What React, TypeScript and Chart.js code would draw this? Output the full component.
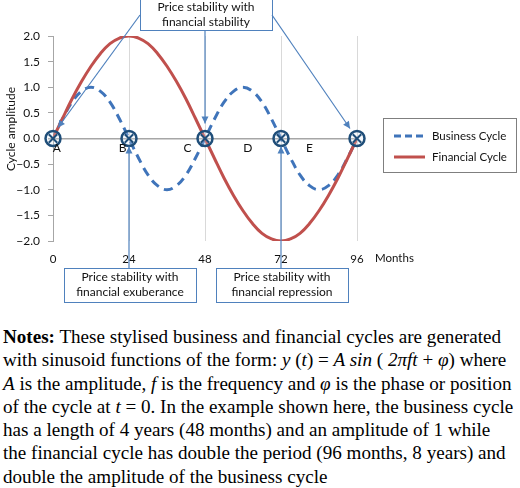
import React, { useEffect, useRef } from 'react';
import { Chart, registerables } from 'chart.js';

Chart.register(...registerables);

// ---- data ----
const months = [0, 3, 6, 9, 12, 15, 18, 21, 24, 27, 30, 33, 36, 39, 42, 45, 48, 51, 54, 57, 60, 63, 66, 69, 72, 75, 78, 81, 84, 87, 90, 93, 96];
const businessCycle = [0, 0.38, 0.71, 0.92, 1.0, 0.92, 0.71, 0.38, 0, -0.38, -0.71, -0.92, -1.0, -0.92, -0.71, -0.38, 0, 0.38, 0.71, 0.92, 1.0, 0.92, 0.71, 0.38, 0, -0.38, -0.71, -0.92, -1.0, -0.92, -0.71, -0.38, 0];
const financialCycle = [0, 0.39, 0.77, 1.11, 1.41, 1.66, 1.85, 1.96, 2.0, 1.96, 1.85, 1.66, 1.41, 1.11, 0.77, 0.39, 0, -0.39, -0.77, -1.11, -1.41, -1.66, -1.85, -1.96, -2.0, -1.96, -1.85, -1.66, -1.41, -1.11, -0.77, -0.39, 0];
const stabilityMonths = [0, 24, 48, 72, 96];
const stabilityValues = [0, 0, 0, 0, 0];
const phaseLabels = ['A', 'B', 'C', 'D', 'E'];
const phaseMonths = [1.2, 22, 42.5, 61.5, 81];
const xTickValues = [0, 24, 48, 72, 96];
const seriesNames = ['Business Cycle', 'Financial Cycle'];
const xAxisLabel = 'Months';
const yAxisLabel = 'Cycle amplitude';
const topNote = ['Price stability with', 'financial stability'];
const bottomNoteLeft = ['Price stability with', 'financial exuberance'];
const bottomNoteRight = ['Price stability with', 'financial repression'];

const BLUE = '#3F74BA';
const RED = '#C0504D';
const NAVY = '#1F4E79';
const BOX = '#4F81BD';
const AXIS = '#A6A6A6';
const FONT = 'Lato, "Open Sans", sans-serif';
const FS = 11.5;

function arrow(ctx: CanvasRenderingContext2D, x1: number, y1: number, x2: number, y2: number) {
  ctx.save();
  ctx.strokeStyle = BOX;
  ctx.fillStyle = BOX;
  ctx.lineWidth = 1.2;
  ctx.beginPath();
  ctx.moveTo(x1, y1);
  ctx.lineTo(x2, y2);
  ctx.stroke();
  const a = Math.atan2(y2 - y1, x2 - x1);
  const L = 7, W = 3.5;
  ctx.beginPath();
  ctx.moveTo(x2, y2);
  ctx.lineTo(x2 - L * Math.cos(a) + W * Math.sin(a), y2 - L * Math.sin(a) - W * Math.cos(a));
  ctx.lineTo(x2 - L * Math.cos(a) - W * Math.sin(a), y2 - L * Math.sin(a) + W * Math.cos(a));
  ctx.closePath();
  ctx.fill();
  ctx.restore();
}

function noteBox(ctx: CanvasRenderingContext2D, x: number, y: number, w: number, h: number, lines: string[]) {
  ctx.save();
  ctx.fillStyle = '#fff';
  ctx.fillRect(x, y, w, h);
  ctx.strokeStyle = BOX;
  ctx.lineWidth = 1;
  ctx.strokeRect(x + 0.5, y + 0.5, w, h);
  ctx.fillStyle = '#111';
  ctx.font = `12px ${FONT}`;
  ctx.textAlign = 'center';
  ctx.textBaseline = 'middle';
  lines.forEach((l, i) => ctx.fillText(l, x + w / 2, y + h / 2 - 7.5 + i * 15));
  ctx.restore();
}

const overlay = {
  id: 'overlay',
  afterDraw(chart: any) {
    const ctx: CanvasRenderingContext2D = chart.ctx;
    const xs = chart.scales.x;
    const ys = chart.scales.y;
    const y0 = ys.getPixelForValue(0);
    ctx.save();
    // phase letters
    ctx.fillStyle = '#111';
    ctx.font = `12px ${FONT}`;
    ctx.textAlign = 'center';
    ctx.textBaseline = 'middle';
    phaseLabels.forEach((l, i) => ctx.fillText(l, xs.getPixelForValue(phaseMonths[i]), y0 + 10));
    // Months label
    ctx.font = `${FS}px ${FONT}`;
    ctx.textAlign = 'left';
    ctx.fillText(xAxisLabel, xs.right + 18, 258);
    // y title
    ctx.save();
    ctx.translate(11, 129);
    ctx.rotate(-Math.PI / 2);
    ctx.textAlign = 'center';
    ctx.font = `12px ${FONT}`;
    ctx.fillText(yAxisLabel, 0, 0);
    ctx.restore();

    // legend
    ctx.strokeStyle = '#7F7F7F';
    ctx.lineWidth = 1;
    ctx.strokeRect(383.5, 118.5, 133, 54);
    ctx.lineWidth = 3;
    ctx.strokeStyle = BLUE;
    ctx.setLineDash([7, 4]);
    ctx.beginPath();
    ctx.moveTo(394, 136);
    ctx.lineTo(425, 136);
    ctx.stroke();
    ctx.setLineDash([]);
    ctx.strokeStyle = RED;
    ctx.beginPath();
    ctx.moveTo(394, 157);
    ctx.lineTo(425, 157);
    ctx.stroke();
    ctx.fillStyle = '#111';
    ctx.textAlign = 'left';
    ctx.font = `${FS}px ${FONT}`;
    ctx.fillText(seriesNames[0], 432, 136);
    ctx.fillText(seriesNames[1], 432, 157);

    // annotation boxes and arrows
    const px = (m: number) => xs.getPixelForValue(m);
    noteBox(ctx, 140, -1, 132, 31, topNote);
    arrow(ctx, 140, 15, px(0) + 5, y0 - 11);
    arrow(ctx, px(48), 31, px(48), y0 - 15);
    arrow(ctx, 272, 15, px(96) - 7, y0 - 10);
    noteBox(ctx, 64, 268, 132, 34, bottomNoteLeft);
    noteBox(ctx, 216, 268, 132, 34, bottomNoteRight);
    arrow(ctx, px(24), 268, px(24), y0 + 8);
    arrow(ctx, px(72), 268, px(72), y0 + 8);
    ctx.restore();
  },
};

function NotesText() {
  const it = (s: string) => <i>{s}</i>;
  const lines: React.ReactNode[] = [
    <><b>Notes:</b> These stylised business and financial cycles are generated</>,
    <>with sinusoid functions of the form: {it('y')} ({it('t')}) = {it('A sin')} ( {it('2πft')} + {it('φ')}) where</>,
    <>{it('A')} is the amplitude, {it('f')} is the frequency and {it('φ')} is the phase or position</>,
    <>of the cycle at {it('t')} = 0. In the example shown here, the business cycle</>,
    <>has a length of 4 years (48 months) and an amplitude of 1 while</>,
    <>the financial cycle has double the period (96 months, 8 years) and</>,
    <>double the amplitude of the business cycle</>,
  ];
  return (
    <div style={{ position: 'absolute', left: 3, top: 325, fontFamily: '"Liberation Serif", "Times New Roman", serif', fontSize: 19.1, lineHeight: '23.3px', color: '#000' }}>
      {lines.map((l, i) => (
        <div key={i} style={{ whiteSpace: 'nowrap' }}>{l}</div>
      ))}
    </div>
  );
}

export default function App() {
  const ref = useRef<HTMLCanvasElement>(null);
  useEffect(() => {
    const chart = new Chart(ref.current as HTMLCanvasElement, {
      type: 'line',
      data: {
        datasets: [
          {
            label: seriesNames[0],
            data: months.map((m, i) => ({ x: m, y: businessCycle[i] })),
            borderColor: BLUE,
            borderWidth: 3,
            borderDash: [9, 6],
            pointRadius: 0,
            tension: 0.4,
            fill: false,
            order: 3,
          },
          {
            label: seriesNames[1],
            data: months.map((m, i) => ({ x: m, y: financialCycle[i] })),
            borderColor: RED,
            borderWidth: 3,
            pointRadius: 0,
            tension: 0.4,
            fill: false,
            order: 2,
          },
          {
            label: 'stability-circle',
            data: stabilityMonths.map((m, i) => ({ x: m, y: stabilityValues[i] })),
            showLine: false,
            pointStyle: 'circle',
            pointRadius: 7.5,
            pointBorderWidth: 2.5,
            pointBorderColor: NAVY,
            pointBackgroundColor: 'rgba(220,230,242,0.25)',
            clip: false as any,
            order: 1,
          },
          {
            label: 'stability-cross',
            data: stabilityMonths.map((m, i) => ({ x: m, y: stabilityValues[i] })),
            showLine: false,
            pointStyle: 'crossRot',
            pointRadius: 6,
            pointBorderWidth: 2,
            pointBorderColor: NAVY,
            clip: false as any,
            order: 0,
          },
        ],
      },
      options: {
        animation: false,
        responsive: false,
        devicePixelRatio: 1,
        layout: { padding: { left: 0, top: 36, right: 163, bottom: 0 } },
        plugins: { legend: { display: false }, tooltip: { enabled: false } },
        scales: {
          x: {
            type: 'linear',
            min: 0,
            max: 96,
            afterBuildTicks: (s: any) => { s.ticks = xTickValues.map((v) => ({ value: v })); },
            afterFit: (s: any) => { s.height = 69; },
            ticks: { color: '#111', font: { family: FONT, size: FS }, padding: 11, maxRotation: 0 },
            grid: {
              color: (c: any) => (c.tick && c.tick.value === 0 ? 'rgba(0,0,0,0)' : '#D9D9D9'),
              drawTicks: false,
              lineWidth: 1,
            },
            border: { display: false },
          },
          y: {
            min: -2,
            max: 2,
            ticks: {
              stepSize: 0.5,
              color: '#111',
              font: { family: FONT, size: 12 },
              padding: 8,
              callback: (v: any) => Number(v).toFixed(1).replace('-', '−'),
            },
            afterFit: (s: any) => { s.width = 53; },
            grid: {
              color: (c: any) => (c.tick && c.tick.value === 0 ? AXIS : 'rgba(0,0,0,0)'),
              lineWidth: (c: any) => (c.tick && c.tick.value === 0 ? 1.5 : 1),
              tickColor: AXIS,
              tickLength: 5,
            },
            border: { display: true, color: AXIS, width: 1 },
          },
        },
      },
      plugins: [overlay],
    });
    return () => chart.destroy();
  }, []);

  return (
    <div style={{ position: 'absolute', left: 0, top: 0, width: 520, height: 488, background: '#fff' }}>
      <div style={{ position: 'absolute', left: 0, top: 0, width: 520, height: 310 }}>
        <canvas ref={ref} width={520} height={310} style={{ display: 'block' }} />
      </div>
      <NotesText />
    </div>
  );
}
